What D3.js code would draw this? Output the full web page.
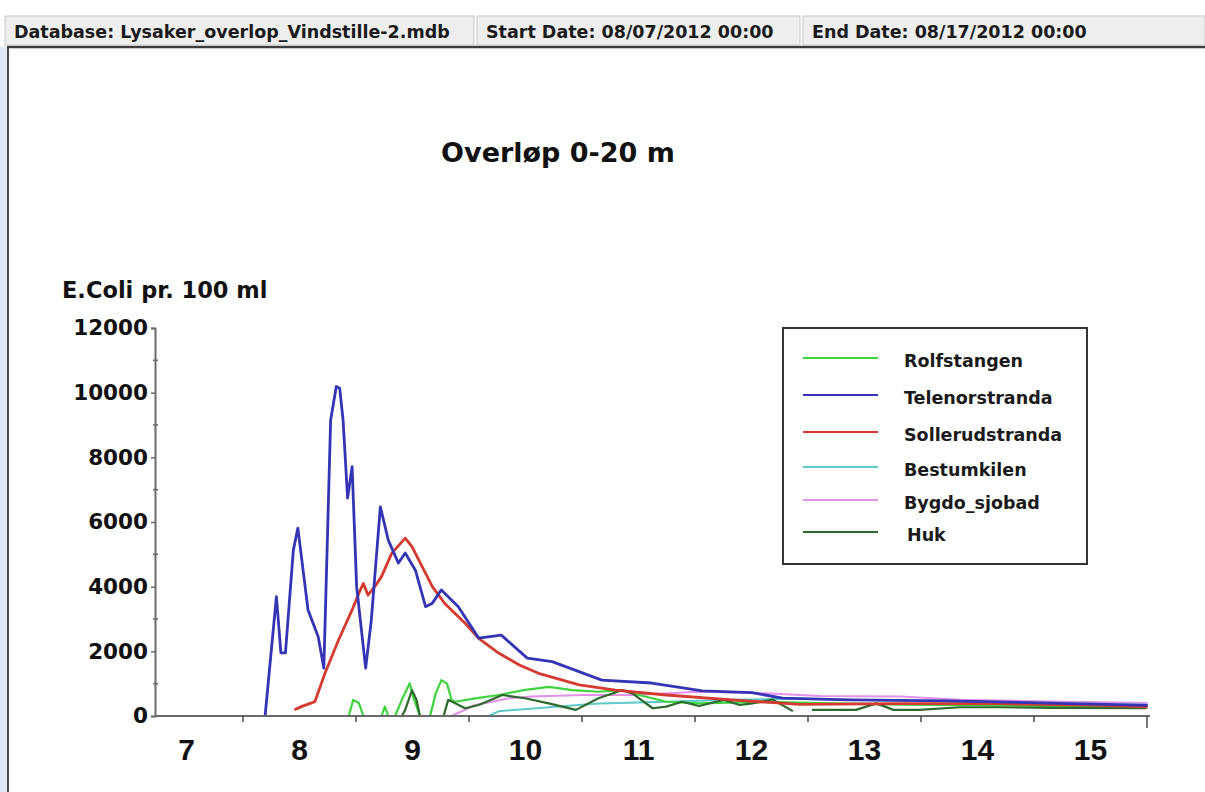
<!DOCTYPE html>
<html>
<head>
<meta charset="utf-8">
<script src="https://cdn.jsdelivr.net/npm/d3@7"></script>
<style>
  html, body { margin: 0; padding: 0; background: #fff; }
  svg { display: block; }
</style>
</head>
<body>
<svg id="chart" width="1205" height="792"></svg>
<script>
// Header fields
const headerCells = [
  "Database: Lysaker_overlop_Vindstille-2.mdb",
  "Start Date: 08/07/2012 00:00",
  "End Date: 08/17/2012 00:00"
];

const chartTitle = "Overløp 0-20 m";
const yAxisTitle = "E.Coli pr. 100 ml";

// Axis ticks (x in day-of-month, August 2012)
const dayLabels = [7, 8, 9, 10, 11, 12, 13, 14, 15];
const dayTicks = [7.5, 8.5, 9.5, 10.5, 11.5, 12.5, 13.5, 14.5, 15.5];
const yMajorTicks = [0, 2000, 4000, 6000, 8000, 10000, 12000];
const yMinorTicks = [1000, 3000, 5000, 7000, 9000, 11000];

// Series: [day, E.coli per 100 ml]; null marks a break in the record
const rolfstangen = [
  [8.44, 0], [8.48, 500], [8.53, 400], [8.57, 0], [8.57, null],
  [8.73, 0], [8.76, 290], [8.79, 0], [8.81, null],
  [8.85, 0], [8.91, 500], [8.98, 1010], [9.01, 600], [9.07, 0], [9.10, null],
  [9.16, 0], [9.21, 700], [9.26, 1110], [9.31, 1000], [9.35, 500], [9.38, 440],
  [9.59, 560], [9.77, 650], [9.99, 800], [10.21, 900], [10.42, 800], [10.65, 750],
  [10.86, 800], [11.01, 650], [11.25, 440], [11.54, 390], [11.90, 420], [12.25, 430],
  [12.61, 400], [13.32, 350], [14.20, 330], [15.51, 270]
];

const telenorstranda = [
  [7.70, 0], [7.80, 3690], [7.84, 1950], [7.88, 1950], [7.95, 5130], [7.99, 5810],
  [8.08, 3280], [8.17, 2450], [8.22, 1480], [8.28, 9150], [8.33, 10190], [8.36, 10140],
  [8.39, 9150], [8.43, 6740], [8.47, 7710], [8.51, 4000], [8.59, 1480], [8.64, 2970],
  [8.72, 6470], [8.79, 5440], [8.88, 4730], [8.94, 5040], [9.03, 4510], [9.12, 3380],
  [9.18, 3490], [9.26, 3900], [9.41, 3380], [9.59, 2410], [9.79, 2500], [10.02, 1790],
  [10.24, 1680], [10.68, 1110], [11.12, 1020], [11.57, 780], [12.01, 720], [12.28, 550],
  [12.87, 500], [13.76, 470], [14.65, 400], [15.51, 330]
];

const sollerudstranda = [
  [7.96, 190], [8.02, 290], [8.10, 390], [8.14, 440], [8.23, 1320], [8.35, 2350],
  [8.47, 3280], [8.53, 3800], [8.57, 4100], [8.61, 3740], [8.67, 4000], [8.73, 4310],
  [8.82, 5030], [8.94, 5500], [9.00, 5240], [9.09, 4620], [9.18, 4000], [9.29, 3480],
  [9.47, 2870], [9.59, 2400], [9.77, 1940], [9.95, 1580], [10.12, 1320], [10.48, 960],
  [10.80, 800], [11.25, 650], [11.83, 500], [12.43, 360], [13.32, 380], [14.20, 380],
  [15.09, 330], [15.51, 280]
];

const bestumkilen = [
  [9.68, 0], [9.77, 150], [10.21, 270], [10.65, 390], [11.25, 440], [11.83, 500],
  [12.34, 530], [12.87, 500], [13.76, 450], [14.65, 400], [15.51, 350]
];

const bygdoSjobad = [
  [9.35, 0], [9.56, 340], [9.86, 550], [10.06, 600], [10.51, 650], [10.95, 650],
  [11.54, 750], [12.13, 700], [12.61, 620], [13.32, 600], [13.85, 500], [14.65, 450],
  [15.51, 400]
];

const huk = [
  [8.91, 0], [8.94, 190], [9.00, 800], [9.04, 500], [9.07, 0], [9.10, null],
  [9.28, 0], [9.32, 500], [9.47, 240], [9.59, 340], [9.80, 650], [10.00, 550],
  [10.21, 390], [10.45, 190], [10.65, 550], [10.86, 800], [10.95, 700], [11.13, 240],
  [11.25, 290], [11.39, 440], [11.54, 310], [11.76, 500], [11.90, 340], [12.01, 390],
  [12.19, 510], [12.37, 150], [12.45, null],
  [12.54, 190], [12.93, 190], [13.11, 390], [13.26, 190], [13.49, 190], [13.85, 270],
  [14.20, 270], [14.65, 250], [15.50, 240]
];

const seriesNames = ["Rolfstangen", "Telenorstranda", "Sollerudstranda", "Bestumkilen", "Bygdo_sjobad", "Huk"];
const seriesColors = ["#3fd43f", "#3434b4", "#d43a30", "#5ec9c9", "#e391ea", "#2e6a2e"];
const seriesData = [rolfstangen, telenorstranda, sollerudstranda, bestumkilen, bygdoSjobad, huk];
const seriesWidths = [2.2, 2.8, 2.8, 2, 2, 2.2];

const svg = d3.select("#chart");

// ---- window frame and header strip ----
svg.append("rect").attr("x", 0).attr("y", 0).attr("width", 1205).attr("height", 792).attr("fill", "#fff");
svg.append("rect").attr("x", 0).attr("y", 47).attr("width", 7).attr("height", 745).attr("fill", "#dfe9f5");
svg.append("line").attr("x1", 8).attr("x2", 8).attr("y1", 47).attr("y2", 792)
  .attr("stroke", "#4a4a4a").attr("stroke-width", 2);
svg.append("line").attr("x1", 7).attr("x2", 1205).attr("y1", 47).attr("y2", 47)
  .attr("stroke", "#3c3c3c").attr("stroke-width", 2.5);

const cellX = [5, 477, 803];
const cellW = [469, 323, 402];
const header = svg.append("g");
header.selectAll("rect").data(headerCells).join("rect")
  .attr("x", (d, i) => cellX[i]).attr("y", 16).attr("width", (d, i) => cellW[i]).attr("height", 29)
  .attr("fill", "#eeeeee").attr("stroke", "#c8c8c8").attr("stroke-width", 1);
header.selectAll("text").data(headerCells).join("text")
  .attr("x", (d, i) => cellX[i] + 9).attr("y", 37.5)
  .attr("font-family", "DejaVu Sans, Verdana, sans-serif").attr("font-weight", "bold")
  .attr("font-size", 17.5).attr("fill", "#1a1a1a")
  .text(d => d);

// ---- scales ----
const x = d3.scaleLinear().domain([7, 15]).range([186, 1090]);
const y = d3.scaleLinear().domain([0, 12000]).range([716, 328]);
const xLeft = 155, xRight = 1150;

// ---- titles ----
svg.append("text").attr("x", 558).attr("y", 162).attr("text-anchor", "middle")
  .attr("font-family", "DejaVu Sans, Verdana, sans-serif").attr("font-weight", "bold")
  .attr("font-size", 27).attr("fill", "#111").text(chartTitle);
svg.append("text").attr("x", 62).attr("y", 298)
  .attr("font-family", "DejaVu Sans, Verdana, sans-serif").attr("font-weight", "bold")
  .attr("font-size", 22.5).attr("fill", "#111").text(yAxisTitle);

// ---- series lines ----
const line = d3.line()
  .defined(d => d[1] !== null)
  .x(d => x(d[0]))
  .y(d => y(d[1]))
  .curve(d3.curveLinear);

const drawOrder = [4, 3, 0, 5, 2, 1];
const plot = svg.append("g");
drawOrder.forEach(i => {
  plot.append("path")
    .datum(seriesData[i])
    .attr("fill", "none")
    .attr("stroke", seriesColors[i])
    .attr("stroke-width", seriesWidths[i])
    .attr("stroke-linejoin", "round")
    .attr("d", line);
});

// ---- y axis ----
const yAxis = svg.append("g").attr("transform", `translate(${xLeft},0)`)
  .call(d3.axisLeft(y).tickValues(yMajorTicks).tickSize(4).tickPadding(3).tickFormat(d3.format("d")));
yAxis.select(".domain").attr("stroke", "#6a6a6a").attr("stroke-width", 2);
yAxis.selectAll(".tick line").attr("stroke", "#6a6a6a").attr("stroke-width", 1.5);
yAxis.selectAll(".tick text")
  .attr("font-family", "DejaVu Sans, Verdana, sans-serif").attr("font-weight", "bold")
  .attr("font-size", 21.5).attr("fill", "#111");
svg.append("g").selectAll("line").data(yMinorTicks).join("line")
  .attr("x1", xLeft - 2).attr("x2", xLeft + 3)
  .attr("y1", d => y(d)).attr("y2", d => y(d))
  .attr("stroke", "#6a6a6a").attr("stroke-width", 1.5);

// ---- x axis ----
svg.append("line").attr("x1", xLeft).attr("x2", xRight).attr("y1", y(0)).attr("y2", y(0))
  .attr("stroke", "#6a6a6a").attr("stroke-width", 2.2);
const xTicks = svg.append("g").attr("transform", `translate(0,${y(0)})`)
  .call(d3.axisBottom(x).tickValues(dayTicks).tickSize(6).tickFormat(""));
xTicks.select(".domain").remove();
xTicks.selectAll(".tick line").attr("stroke", "#555").attr("stroke-width", 1.6)
  .attr("y2", (d, i) => i === dayTicks.length - 1 ? 12 : 6);
const xLabels = svg.append("g").attr("transform", `translate(0,${y(0)})`)
  .call(d3.axisBottom(x).tickValues(dayLabels).tickSize(0).tickPadding(23).tickFormat(d3.format("d")));
xLabels.select(".domain").remove();
xLabels.selectAll(".tick text")
  .attr("font-family", "Liberation Sans, Arial, sans-serif").attr("font-weight", "bold")
  .attr("font-size", 30).attr("fill", "#111");

// ---- legend ----
const legend = svg.append("g");
legend.append("rect").attr("x", 783).attr("y", 328).attr("width", 304).attr("height", 236)
  .attr("fill", "#fff").attr("stroke", "#333").attr("stroke-width", 2);
const rowY = [358, 395, 432, 467, 500, 532];
const rows = legend.selectAll("g.row").data(seriesNames).join("g").attr("class", "row");
rows.append("line")
  .attr("x1", 803).attr("x2", 878)
  .attr("y1", (d, i) => rowY[i]).attr("y2", (d, i) => rowY[i])
  .attr("stroke", (d, i) => seriesColors[i]).attr("stroke-width", 2.2);
rows.append("text")
  .attr("x", (d, i) => i === 5 ? 907 : 904)
  .attr("y", (d, i) => rowY[i] + 9)
  .attr("font-family", "DejaVu Sans, Verdana, sans-serif").attr("font-weight", "bold")
  .attr("font-size", 17.5).attr("fill", "#1a1a1a")
  .text(d => d);
</script>
</body>
</html>
